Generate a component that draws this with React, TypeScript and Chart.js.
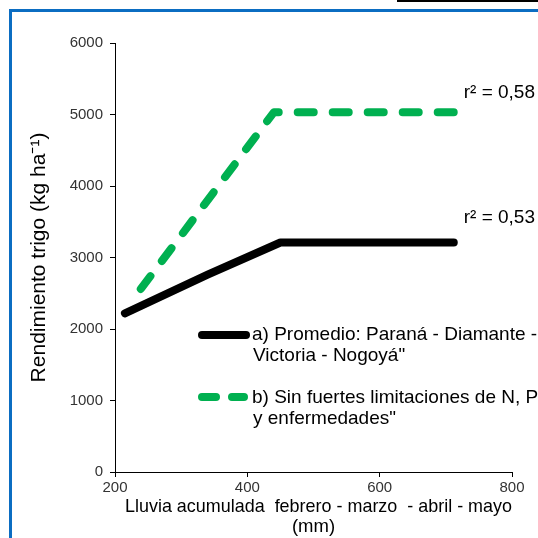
import React, { useEffect, useRef } from 'react';
import { Chart, registerables } from 'chart.js';

Chart.register(...registerables);

const FONT = '"Liberation Sans", Arial, sans-serif';

// Axis ticks
const xTickValues = [200, 400, 600, 800];
const yTickValues = [0, 1000, 2000, 3000, 4000, 5000, 6000];

// Series a) Promedio: Paraná - Diamante - Victoria - Nogoyá
const promedioX = [215, 340, 450, 712];
const promedioY = [2220, 2760, 3210, 3210];

// Series b) Sin fuertes limitaciones de N, P y enfermedades
const sinLimX = [239, 440, 725];
const sinLimY = [2560, 5030, 5030];

const seriesLegend = [
  ['a) Promedio: Paraná - Diamante -', 'Victoria - Nogoyá"'],
  ['b) Sin fuertes limitaciones de N, P', 'y enfermedades"'],
];
const r2Texts = ['r² = 0,58', 'r² = 0,53'];

const xTitle = ['\u00a0\u00a0Lluvia acumulada  febrero - marzo  - abril - mayo', '(mm)'];
const yTitle = 'Rendimiento trigo (kg ha⁻¹)';

const GREEN = '#00b050';
const BLACK = '#000000';
const GREEN_DASH = [16, 19];

const extrasPlugin = {
  id: 'extras',
  afterDraw(chart: any) {
    const ctx = chart.ctx;
    const xs = chart.scales.x;
    const ys = chart.scales.y;
    ctx.save();
    // r² annotations, anchored to data coords
    ctx.fillStyle = '#000';
    ctx.font = `19px ${FONT}`;
    ctx.textBaseline = 'middle';
    ctx.textAlign = 'left';
    ctx.fillText(r2Texts[0], xs.getPixelForValue(727), ys.getPixelForValue(5300));
    ctx.fillText(r2Texts[1], xs.getPixelForValue(727), ys.getPixelForValue(3550));

    // Legend
    ctx.lineCap = 'round';
    ctx.lineWidth = 8;
    ctx.strokeStyle = BLACK;
    ctx.setLineDash([]);
    ctx.beginPath();
    ctx.moveTo(202, 335);
    ctx.lineTo(246, 335);
    ctx.stroke();
    ctx.strokeStyle = GREEN;
    ctx.beginPath();
    ctx.moveTo(202, 397);
    ctx.lineTo(216, 397);
    ctx.moveTo(232, 397);
    ctx.lineTo(244, 397);
    ctx.stroke();

    ctx.fillStyle = '#000';
    ctx.fillText(seriesLegend[0][0], 252, 335);
    ctx.fillText(seriesLegend[0][1], 253, 356);
    ctx.fillText(seriesLegend[1][0], 252, 398);
    ctx.fillText(seriesLegend[1][1], 253, 419);
    ctx.restore();
  },
};

export default function App() {
  const ref = useRef<HTMLCanvasElement>(null);

  useEffect(() => {
    if (!ref.current) return;
    const chart = new Chart(ref.current, {
      type: 'line',
      data: {
        datasets: [
          {
            label: 'a) Promedio',
            data: promedioX.map((x, i) => ({ x, y: promedioY[i] })),
            borderColor: BLACK,
            borderWidth: 8,
            borderCapStyle: 'round',
            borderJoinStyle: 'round',
            pointRadius: 0,
            tension: 0,
            fill: false,
          },
          {
            label: 'b) Sin fuertes limitaciones',
            data: sinLimX.map((x, i) => ({ x, y: sinLimY[i] })),
            borderColor: GREEN,
            borderWidth: 8,
            borderDash: GREEN_DASH,
            borderCapStyle: 'round',
            borderJoinStyle: 'round',
            pointRadius: 0,
            tension: 0,
            fill: false,
          },
        ],
      },
      options: {
        animation: false,
        responsive: false,
        layout: { padding: { top: 43, right: 26, left: 0, bottom: 0 } },
        plugins: {
          legend: { display: false },
          tooltip: { enabled: false },
        },
        scales: {
          x: {
            type: 'linear',
            min: 200,
            max: 800,
            afterBuildTicks: (s: any) => {
              s.ticks = xTickValues.map((v) => ({ value: v }));
            },
            afterFit: (s: any) => {
              s.height = 66;
            },
            grid: { drawOnChartArea: false, drawTicks: true, tickLength: 5, color: '#000' },
            border: { display: true, color: '#000', width: 1 },
            ticks: {
              color: '#333',
              font: { family: FONT, size: 15 },
              padding: 2,
              maxRotation: 0,
              callback: (v: any) => String(v),
            },
            title: {
              display: true,
              text: xTitle,
              color: '#000',
              font: { family: FONT, size: 18.5, lineHeight: 1.1 },
              padding: { top: 0, bottom: 1 },
            },
          },
          y: {
            type: 'linear',
            min: 0,
            max: 6000,
            afterBuildTicks: (s: any) => {
              s.ticks = yTickValues.map((v) => ({ value: v }));
            },
            afterFit: (s: any) => {
              s.width = 115;
            },
            grid: { drawOnChartArea: false, drawTicks: true, tickLength: 5, color: '#000' },
            border: { display: true, color: '#000', width: 1 },
            ticks: {
              color: '#333',
              font: { family: FONT, size: 15 },
              padding: 7,
              callback: (v: any) => String(v),
            },
            title: {
              display: true,
              text: yTitle,
              color: '#000',
              font: { family: FONT, size: 21, lineHeight: 1.2 },
              padding: { top: 27, bottom: 0 },
            },
          },
        },
      },
      plugins: [extrasPlugin],
    } as any);
    return () => chart.destroy();
  }, []);

  return (
    <div
      style={{
        position: 'fixed',
        left: 0,
        top: 0,
        width: 538,
        height: 538,
        background: '#fff',
        overflow: 'hidden',
      }}
    >
      <div style={{ position: 'absolute', left: 397, top: 0, width: 141, height: 2, background: '#000' }} />
      <div
        style={{
          position: 'absolute',
          left: 9,
          top: 9,
          width: 700,
          height: 700,
          borderLeft: '3px solid #0b6dc2',
          borderTop: '3px solid #0b6dc2',
        }}
      />
      <canvas ref={ref} width={538} height={538} style={{ position: 'absolute', left: 0, top: 0 }} />
    </div>
  );
}
